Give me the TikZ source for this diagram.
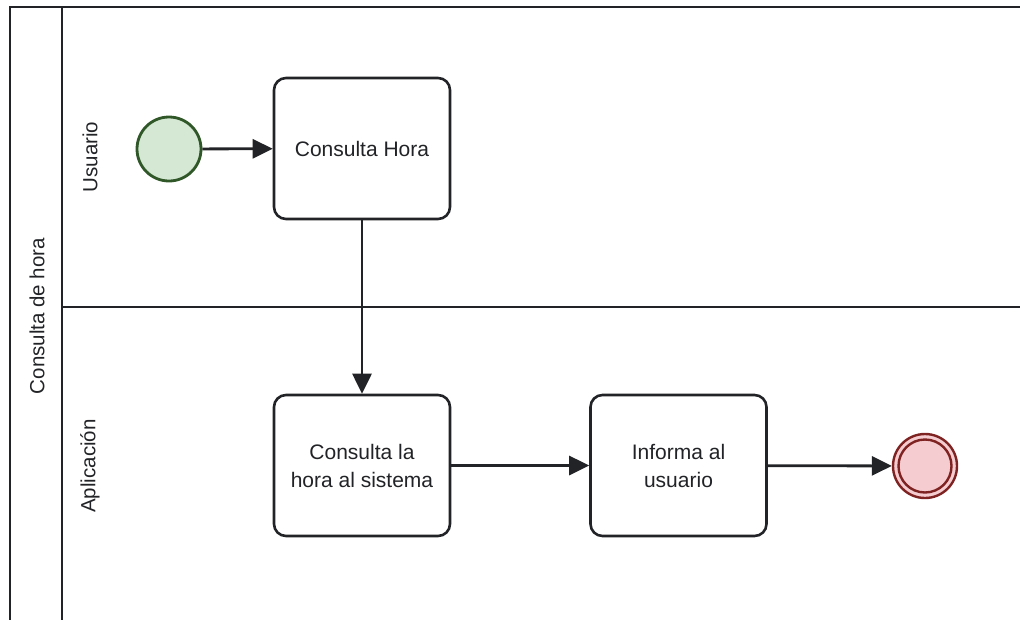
\documentclass[tikz,border=0pt]{standalone}
\usepackage{fontspec}
\setmainfont{Liberation Sans}
\usetikzlibrary{arrows.meta}
\definecolor{ink}{HTML}{222326}
\definecolor{startfill}{HTML}{D5E8D4}
\definecolor{startline}{HTML}{2F5728}
\definecolor{endfill}{HTML}{F5CDD0}
\definecolor{endline}{HTML}{7E2222}
\tikzset{
  lane/.style={draw=ink, line width=2.4pt},
  task/.style={draw=ink, line width=2.6pt, rounded corners=12pt, fill=white,
    minimum width=176pt, minimum height=141pt, align=center, font=\fontsize{21}{28}\selectfont, text=ink},
  startev/.style={circle, draw=startline, line width=2.8pt, fill=startfill, minimum size=64pt, inner sep=0pt},
  endouter/.style={circle, draw=endline, line width=2.4pt, fill=endfill, minimum size=64pt, inner sep=0pt},
  endinner/.style={circle, draw=endline, line width=2.4pt, minimum size=53pt, inner sep=0pt},
  flow/.style={draw=ink, line width=2.8pt, -{Triangle[length=20pt, width=19pt]}},
  lanetext/.style={rotate=90, font=\fontsize{20.5}{24}\selectfont, text=ink}
}
\begin{document}
\begin{tikzpicture}[x=1pt, y=-1pt]
  \useasboundingbox (0,0) rectangle (1020,619);
  % pool and lanes
  \draw[lane] (10,625) -- (10,7) -- (1030,7);
  \draw[lane] (62,7) -- (62,625);
  \draw[lane] (62,307) -- (1030,307);
  \node[lanetext] (pool) at (37,316) {Consulta de hora};
  \node[lanetext] (usr) at (90,157) {Usuario};
  \node[lanetext] (app) at (90,466) {Aplicación};
  % flow elements
  \node[startev] (s) at (169,149) {};
  \node[task] (t1) at (362,148.5) {Consulta Hora};
  \node[task] (t2) at (362,465.5) {Consulta la\\hora al sistema};
  \node[task] (t3) at (678.5,465.5) {Informa al\\usuario};
  \node[endouter] (e) at (925,466) {};
  \node[endinner] (ei) at (925,466) {};
  % sequence flows
  \draw[flow] (s) -- (t1);
  \draw[flow] (t1) -- (t2);
  \draw[flow] (t2) -- (t3);
  \draw[flow] (t3) -- (e);
\end{tikzpicture}
\end{document}
